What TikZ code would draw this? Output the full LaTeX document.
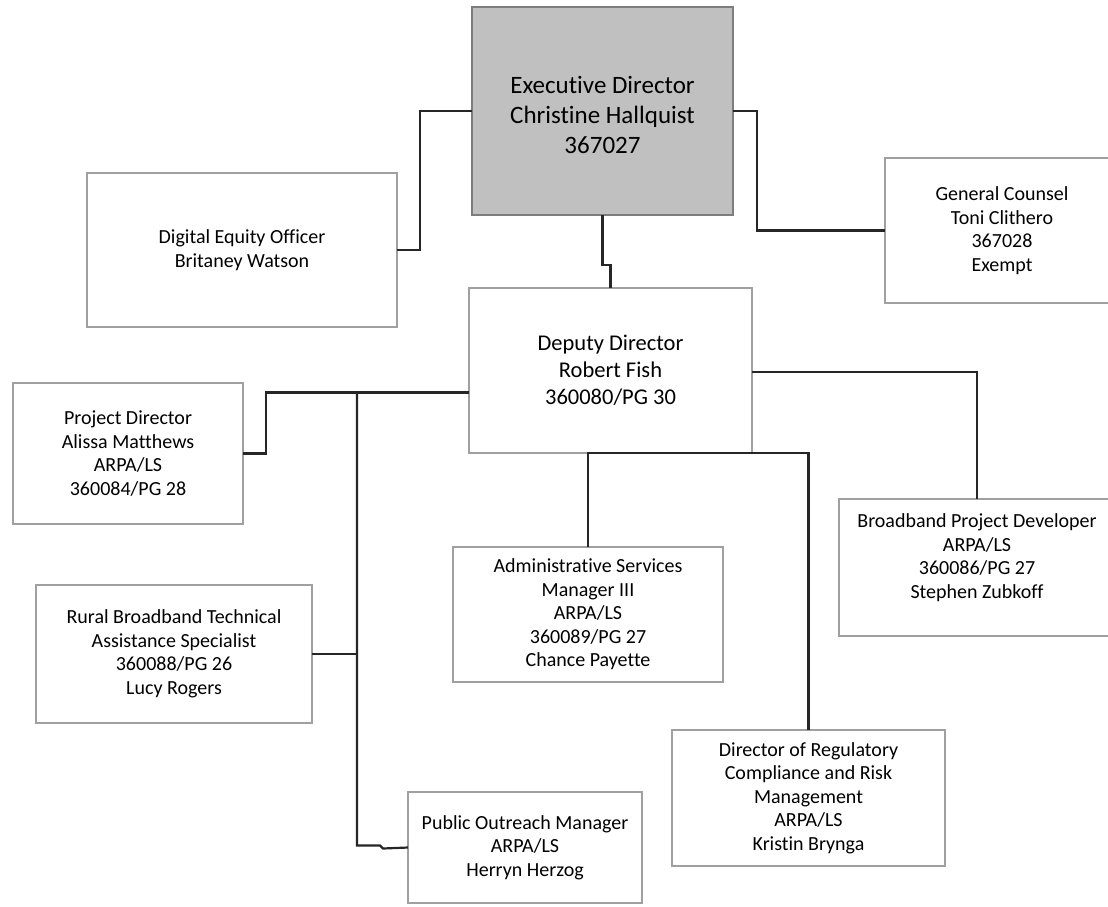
\documentclass[tikz,border=0pt]{standalone}
\usepackage{fontspec}
\setmainfont{Carlito}[Ligatures=NoCommon]
\begin{document}
\begin{tikzpicture}[x=1pt,y=-1pt,
  orgbox/.style={draw={rgb,255:red,160;green,160;blue,160}, line width=1.1pt, fill=white,
    align=center, inner sep=0pt, outer sep=0pt, font=\fontsize{20}{23.5}\selectfont},
  boxtext/.style={align=center, inner sep=0pt, font=\fontsize{20}{23.5}\selectfont},
  topbox/.style={orgbox, draw={rgb,255:red,125;green,125;blue,125}, line width=2pt,
    fill={rgb,255:red,192;green,192;blue,192}, font=\fontsize{25}{30}\selectfont},
  link/.style={draw=black!85, line width=2.2pt}]
\useasboundingbox (0,0) rectangle (1108,906);
\clip (0,0) rectangle (1108,906);
\fill[white] (0,0) rectangle (1108,906);

% boxes
\node[topbox, minimum width=261, minimum height=208] (exec) at (602.5,111) {};
\node[boxtext, font=\fontsize{25}{30}\selectfont] (exectext) at ([yshift=-4pt]exec.center)
  {Executive Director\\Christine Hallquist\\367027};
\node[orgbox, minimum width=310, minimum height=154] (deo) at (242,250)
  {Digital Equity Officer\\Britaney Watson};
\node[orgbox, minimum width=234, minimum height=145] (gc) at (1002,230.5)
  {General Counsel\\Toni Clithero\\367028\\Exempt};
\node[orgbox, minimum width=283, minimum height=165, font=\fontsize{22.5}{27}\selectfont] (dep) at (610.5,370.5)
  {Deputy Director\\Robert Fish\\360080/PG 30};
\node[orgbox, minimum width=230, minimum height=141] (pd) at (128,453.5)
  {Project Director\\Alissa Matthews\\ARPA/LS\\360084/PG 28};
\node[orgbox, minimum width=276, minimum height=138] (rural) at (174,654)
  {Rural Broadband Technical\\Assistance Specialist\\360088/PG 26\\Lucy Rogers};
\node[orgbox, minimum width=270, minimum height=135] (admin) at (588,614.5)
  {Administrative Services\\Manager III\\ARPA/LS\\360089/PG 27\\Chance Payette};
\node[orgbox, minimum width=276, minimum height=137] (bpd) at (977,567.5) {};
\node[boxtext] (bpdtext) at ([yshift=10pt]bpd.center)
  {Broadband Project Developer\\ARPA/LS\\360086/PG 27\\Stephen Zubkoff};
\node[orgbox, minimum width=273, minimum height=136] (reg) at (808.5,798)
  {Director of Regulatory\\Compliance and Risk\\Management\\ARPA/LS\\Kristin Brynga};
\node[orgbox, minimum width=234, minimum height=111] (pom) at (525,847.5)
  {Public Outreach Manager\\ARPA/LS\\Herryn Herzog};

% reporting lines from the executive director
\draw[link] (exec.west) -- ++(-52,0) |- (deo.east);
\draw[link] (exec.east) -- ++(24,0) |- (gc.west);
\draw[link] (exec.south) -- ++(0,50) -| (dep.north);

% reporting lines from the deputy director
\coordinate (trunk) at ([xshift=-112pt,yshift=-22pt]dep.west);
\draw[link] ([yshift=-22pt]dep.west) -- ++(-203,0) |- (pd.east);
\draw[link] (trunk) -- ++(0,453) -- ++(23,0) -- ++(3,3) -- (pom.west);
\draw[link] (rural.east) -- (rural.east -| trunk);
\draw[link] (admin.north) -- (admin.north |- dep.south) -- (reg.north |- dep.south) -- (reg.north);
\draw[link] ([yshift=-1.5pt]dep.east) -| (bpd.north);
\end{tikzpicture}
\end{document}
